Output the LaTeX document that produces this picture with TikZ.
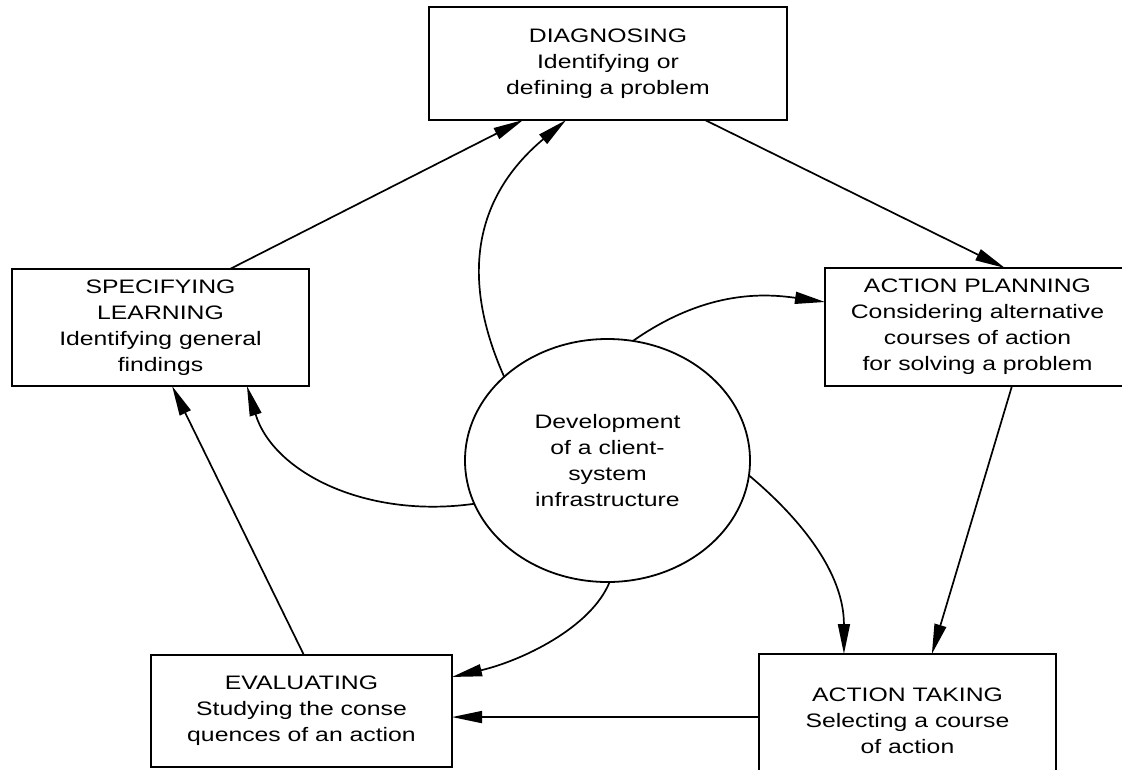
\documentclass[tikz,border=0pt]{standalone}
\usepackage{fontspec}
\setmainfont{Liberation Sans}[FakeStretch=1.27]
\usetikzlibrary{arrows.meta,shapes.geometric,calc}
\begin{document}
\begin{tikzpicture}[x=1pt,y=1pt,
  boxtxt/.style={font=\fontsize{19.5}{26}\selectfont, align=center},
  box/.style={draw, rectangle, line width=2pt, inner sep=0pt, outer sep=0pt, boxtxt},
  ell/.style={draw, ellipse, line width=1.8pt, inner sep=0pt, outer sep=0pt, boxtxt},
  arr/.style={line width=1.7pt, -{Triangle[length=30pt,width=12pt]}}]
\useasboundingbox (0,0) rectangle (1122,-769);
\fill[white] (0,0) rectangle (1122,-769);
\clip (0,0) rectangle (1122,-769);

\node[box, minimum width=358pt, minimum height=113pt] (diag) at (608,-63.5)
  {DIAGNOSING\\Identifying or\\defining a problem};
\node[box, minimum width=297pt, minimum height=117pt] (spec) at (160.5,-327.5)
  {SPECIFYING\\LEARNING\\Identifying general\\findings};
\node[box, minimum width=305pt, minimum height=118pt] (ap) at (977.5,-327)
  {ACTION PLANNING\\Considering alternative\\courses of action\\for solving a problem};
\node[box, minimum width=297pt, minimum height=133pt] (at) at (907.5,-720.5)
  {ACTION TAKING\\Selecting a course\\of action};
\node[box, minimum width=301pt, minimum height=112pt] (eval) at (301.5,-711)
  {EVALUATING\\Studying the conse\\quences of an action};
\node[ell, minimum width=285pt, minimum height=243pt] (dev) at (607.5,-460.5)
  {Development\\of a client-\\system\\infrastructure};

% straight connectors
\draw[arr] ($(spec.north west)!0.734!(spec.north east)$) -- ($(diag.south west)!0.263!(diag.south east)$);
\draw[arr] ($(diag.south west)!0.771!(diag.south east)$) -- ($(ap.north west)!0.590!(ap.north east)$);
\draw[arr] ($(ap.south west)!0.613!(ap.south east)$) -- ($(at.north west)!0.582!(at.north east)$);
\draw[arr] ($(at.north west)!0.474!(at.south west)$) -- ($(eval.north east)!0.554!(eval.south east)$);
\draw[arr] ($(eval.north west)!0.508!(eval.north east)$) -- ($(spec.south west)!0.539!(spec.south east)$);

% curved connectors from the centre
\draw[arr] (dev.141.7) .. controls +(114:130) and +(220:100) .. ($(diag.south west)!0.383!(diag.south east)$);
\draw[arr] (dev.78.5) .. controls +(35:90) and +(172:60) .. ($(ap.north west)!0.288!(ap.south west)$);
\draw[arr] (dev.198.6) .. controls +(188:110) and +(287:90) .. ($(spec.south west)!0.791!(spec.south east)$);
\draw[arr] (dev.-6.6) .. controls +(-40:70) and +(90:80) .. ($(at.north west)!0.286!(at.north east)$);
\draw[arr] (dev.-89.3) .. controls +(-112:50) and +(13:70) .. ($(eval.north east)!0.196!(eval.south east)$);
\end{tikzpicture}
\end{document}
